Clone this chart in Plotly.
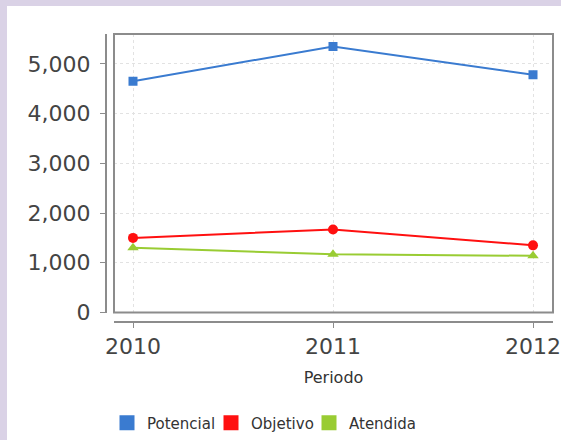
import plotly.graph_objects as go

periods = [2010, 2011, 2012]
period_labels = ["2010", "2011", "2012"]
potencial = [4650, 5350, 4780]
objetivo = [1500, 1670, 1350]
atendida = [1300, 1170, 1140]
y_ticks = [0, 1000, 2000, 3000, 4000, 5000]

W, H = 561, 440
def px(x):
    return x / W
def py(y):
    return 1 - y / H

series = [
    ("Potencial", potencial, "#3a7bd0", "square", 9, 59),
    ("Objetivo", objetivo, "#ff1010", "circle", 10, 53),
    ("Atendida", atendida, "#99cc33", "triangle-up", 10, 70),
]

fig = go.Figure()
for name, vals, col, sym, sz, lw in series:
    fig.add_trace(go.Scatter(
        x=periods, y=vals, mode="lines+markers", name=name,
        line=dict(color=col, width=2),
        marker=dict(color=col, symbol=sym, size=sz),
        showlegend=False, hoverinfo="x+y+name"))
for name, vals, col, sym, sz, lw in series:
    fig.add_trace(go.Scatter(
        x=[None], y=[None], mode="markers", name=name,
        marker=dict(color=col, symbol="square", size=15),
        legendwidth=lw,
        showlegend=True))

fig.update_layout(
    width=W, height=H,
    margin=dict(l=0, r=0, t=0, b=0, pad=0),
    paper_bgcolor="#dad2e6",
    plot_bgcolor="white",
    font=dict(family="DejaVu Sans", color="#444444"),
    shapes=[
        dict(type="rect", xref="paper", yref="paper", x0=px(7), x1=1.0,
             y0=0, y1=py(6), fillcolor="white", line=dict(width=0), layer="below"),
        dict(type="rect", xref="x domain", yref="y domain", x0=0, x1=1, y0=0, y1=1,
             line=dict(color="#8c8c8c", width=2), layer="above"),
    ],
    xaxis=dict(
        domain=[px(114), px(553)],
        range=[2009.905, 2012.1],
        tickvals=periods, ticktext=period_labels,
        anchor="free", position=py(322),
        automargin=False,
        showline=True, linecolor="#8c8c8c", linewidth=2,
        ticks="outside", ticklen=5, tickcolor="#8c8c8c", tickwidth=1,
        ticklabelstandoff=0,
        tickfont=dict(size=22, color="#444444"),
        showgrid=True, gridcolor="#e2e2e2", griddash="3px,3px", gridwidth=1,
        zeroline=False,
        title=dict(text="Periodo", font=dict(size=16, color="#333333"), standoff=12),
    ),
    yaxis=dict(
        domain=[py(312.5), py(34)],
        range=[0, 5600],
        tickvals=y_ticks, tickformat=",d",
        anchor="free", position=px(106),
        automargin=False,
        showline=True, linecolor="#8c8c8c", linewidth=2,
        ticks="outside", ticklen=5, tickcolor="#8c8c8c", tickwidth=1,
        ticklabelstandoff=5,
        tickfont=dict(size=22, color="#444444"),
        showgrid=True, gridcolor="#e2e2e2", griddash="3px,3px", gridwidth=1,
        zeroline=False,
    ),
    legend=dict(
        orientation="h", x=px(107), xanchor="left", y=py(423), yanchor="middle",
        font=dict(size=15, color="#333333"), bgcolor="rgba(0,0,0,0)",
        itemwidth=30, entrywidthmode="pixels",
    ),
)

fig.write_html(
    "out.html",
    config={"displayModeBar": False},
    post_script="document.body.style.margin='0';document.body.style.overflow='hidden';",
)
